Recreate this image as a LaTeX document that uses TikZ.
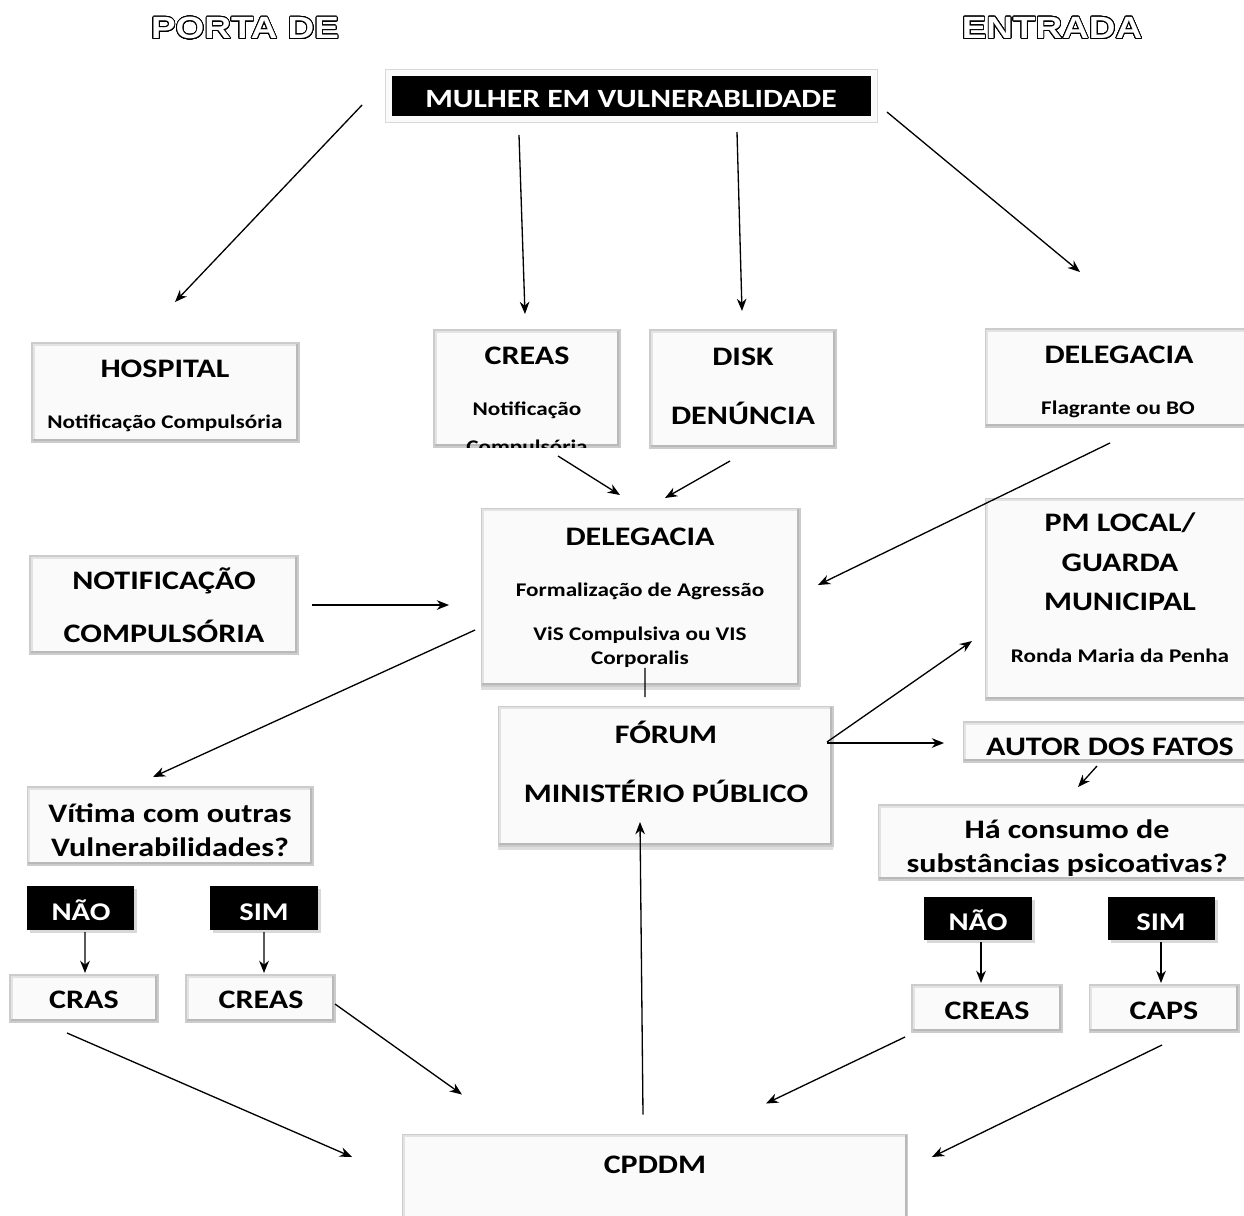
\documentclass[tikz,border=0pt]{standalone}
\usepackage{fontspec}
\setmainfont{Carlito}[FakeStretch=1.2]
\newfontfamily\portafont{Liberation Sans}[FakeStretch=1.2]
\usepackage{contour}
\contourlength{0.5pt}
\contournumber{32}
\usetikzlibrary{arrows.meta,calc,shadows}

\tikzset{
  caixa/.style={draw=gray!40, line width=0.6pt, fill=gray!4, inner sep=0pt, outer sep=0pt,
    path picture={
      \draw[gray!22, line width=3pt] (path picture bounding box.south west)
        -- (path picture bounding box.north west) -- (path picture bounding box.north east);
      \draw[gray!55, line width=3pt] (path picture bounding box.south west)
        -- (path picture bounding box.south east) -- (path picture bounding box.north east);
    }},
  sombra/.style={drop shadow={opacity=0.25, shadow xshift=0pt, shadow yshift=-2pt}},
  preta/.style={fill=black, inner sep=0pt, outer sep=0pt,
    drop shadow={opacity=0.3, shadow xshift=1.5pt, shadow yshift=-1.5pt}},
  rotulo/.style={inner sep=0pt, text depth=0pt},
  tA/.style={rotulo, font=\fontsize{15.2}{18}\selectfont\bfseries, text height=9.8pt},
  tS/.style={rotulo, font=\fontsize{11}{13}\selectfont\bfseries, text height=7.1pt},
  tW/.style={rotulo, font=\fontsize{14.5}{17}\selectfont\bfseries, text height=9.3pt, text=white},
  porta/.style={rotulo, font=\portafont\bfseries\fontsize{17.5}{19}\selectfont},
  seta/.style={line width=0.75pt, -{Stealth[length=7pt, width=5.5pt]}},
  linha/.style={line width=0.75pt}
}

\begin{document}
\begin{tikzpicture}[x=0.02cm, y=-0.02cm]
  \useasboundingbox[fill=white] (0,0) rectangle (1244,1215);

  % titulo
  \node[porta] (portaT) at (245,28) {\contour{black}{\textcolor{white}{PORTA DE}}};
  \node[porta] (entradaT) at (1052,28) {\contour{black}{\textcolor{white}{ENTRADA}}};

  % caixas
  \node[preta, draw=gray!4, line width=3.4pt, preaction={draw=gray!30, line width=4.8pt},
    minimum width=9.7cm, minimum height=0.92cm] (mulher) at (631.5,96) {};
  \node[caixa, minimum width=5.34cm, minimum height=1.98cm] (hosp) at (165.5,392.5) {};
  \node[caixa, minimum width=3.72cm, minimum height=2.34cm] (creasT) at (527,388.5) {};
  \node[caixa, minimum width=3.72cm, minimum height=2.36cm] (disk) at (743,389) {};
  \node[caixa, minimum width=5.3cm, minimum height=1.96cm] (delR) at (1117.5,378) {};
  \node[caixa, sombra, minimum width=6.38cm, minimum height=3.56cm] (delC) at (640.5,597) {};
  \node[caixa, minimum width=5.36cm, minimum height=1.96cm] (notif) at (164,605) {};
  \node[caixa, minimum width=5.3cm, minimum height=4.04cm] (pm) at (1117.5,599) {};
  \node[caixa, sombra, minimum width=6.7cm, minimum height=2.8cm] (forum) at (665.5,776) {};
  \node[caixa, minimum width=5.74cm, minimum height=0.8cm] (autor) at (1106.5,742) {};
  \node[caixa, minimum width=7.44cm, minimum height=1.5cm] (cons) at (1064,842.5) {};
  \node[caixa, minimum width=5.72cm, minimum height=1.56cm] (vit) at (170,826) {};
  \node[preta, minimum width=2.14cm, minimum height=0.88cm] (naoE) at (80.5,908) {};
  \node[preta, minimum width=2.16cm, minimum height=0.88cm] (simE) at (264,908) {};
  \node[caixa, minimum width=2.96cm, minimum height=0.94cm] (cras) at (84,998.5) {};
  \node[caixa, minimum width=2.98cm, minimum height=0.94cm] (creasE) at (260.5,998.5) {};
  \node[preta, minimum width=2.16cm, minimum height=0.86cm] (naoD) at (978,918.5) {};
  \node[preta, minimum width=2.14cm, minimum height=0.86cm] (simD) at (1161.5,918.5) {};
  \node[caixa, minimum width=3cm, minimum height=0.94cm] (creasD) at (987,1008.5) {};
  \node[caixa, minimum width=3cm, minimum height=0.94cm] (caps) at (1164,1008.5) {};
  \node[caixa, sombra, minimum width=10.12cm, minimum height=1.7cm] (cpddm) at (655,1177) {};

  % textos
  \node[tW, font=\fontsize{15}{18}\selectfont\bfseries, text height=9.7pt] (mulherT) at (631,99) {MULHER EM VULNERABLIDADE};
  \node[tA] (hospT) at (165,369) {HOSPITAL};
  \node[tS] (hospS) at (165,422) {Notificação Compulsória};
  \node[tA] (creasTT) at (527,356) {CREAS};
  \node[tS] (creasTS) at (527,409) {Notificação};
  \begin{scope}
    \clip (creasT.south west) rectangle (creasT.north east);
    \node[tS] (creasTS2) at (527,447) {Compulsória};
  \end{scope}
  \node[tA] (diskT) at (743,357) {DISK};
  \node[tA] (diskS) at (743,416) {DENÚNCIA};
  \node[tA] (delRT) at (1119,355) {DELEGACIA};
  \node[tS] (delRS) at (1118,408) {Flagrante ou BO};
  \node[tA] (delCT) at (640,537) {DELEGACIA};
  \node[tS] (delCS) at (640,590) {Formalização de Agressão};
  \node[tS] (delCS2) at (640,634) {ViS Compulsiva ou VIS};
  \node[tS] (delCS3) at (640,658) {Corporalis};
  \node[tA] (notifT) at (164,581) {NOTIFICAÇÃO};
  \node[tA] (notifS) at (164,634) {COMPULSÓRIA};
  \node[tA] (pmT) at (1120,523) {PM LOCAL/};
  \node[tA] (pmT2) at (1120,563) {GUARDA};
  \node[tA] (pmT3) at (1120,602) {MUNICIPAL};
  \node[tS] (pmS) at (1120,656) {Ronda Maria da Penha};
  \node[tA] (forumT) at (666,735) {FÓRUM};
  \node[tA] (forumS) at (666,794) {MINISTÉRIO PÚBLICO};
  \node[tA] (autorT) at (1110,747) {AUTOR DOS FATOS};
  \node[tA] (consT) at (1067,830) {Há consumo de};
  \begin{scope}
    \clip ($(cons.south west)+(0,-5)$) rectangle (cons.north east);
    \node[tA] (consT2) at (1067,864) {substâncias psicoativas?};
  \end{scope}
  \node[tA] (vitT) at (170,814) {Vítima com outras};
  \node[tA] (vitT2) at (170,848) {Vulnerabilidades?};
  \node[tW] (naoET) at (81,912) {NÃO};
  \node[tW] (simET) at (264,912) {SIM};
  \node[tA] (crasT) at (84,1000) {CRAS};
  \node[tA] (creasET) at (261,1000) {CREAS};
  \node[tW] (naoDT) at (978,922) {NÃO};
  \node[tW] (simDT) at (1161,922) {SIM};
  \node[tA] (creasDT) at (987,1011) {CREAS};
  \node[tA] (capsT) at (1164,1011) {CAPS};
  \node[tA] (cpddmT) at (655,1165) {CPDDM};

  % ligacoes
  \draw[seta] ($(mulher.west)+(-27,9)$) -- ($(hosp.north)+(9.5,-41)$);
  \draw[seta] ($(mulher.south)+(-112.5,16)$) -- ($(creasT.north)+(-2,-16)$);
  \draw[seta] ($(mulher.south)+(105.5,13)$) -- ($(disk.north)+(-1,-19)$);
  \draw[seta] ($(mulher.east)+(13,16)$) -- ($(delR.north)+(-37.5,-57)$);
  \draw[seta] ($(creasT.south)+(31,9)$) -- ($(delC.north)+(-20.5,-13)$);
  \draw[seta] ($(disk.south)+(-13,13)$) -- ($(delC.north)+(24.5,-10)$);
  \draw[seta] ($(delR.south)+(-7.5,16)$) -- ($(delC.east)+(18,-12)$);
  \draw[seta] ($(notif.east)+(14,0)$) -- ($(delC.west)+(-32,8)$);
  \draw[seta] ($(delC.west)+(-6,33)$) -- ($(vit.north)+(-17,-10)$);
  \draw[linha] ($(delC.south)+(4.5,-18)$) -- ($(forum.north)+(-20.5,-9)$);
  \draw[seta] ($(forum.east)+(-6,-34)$) -- ($(pm.west)+(-13,42)$);
  \draw[seta] ($(forum.east)+(-6,-33)$) -- ($(autor.west)+(-19,1)$);
  \draw[seta] ($(autor.south)+(-9.5,4)$) -- ($(cons.north)+(14,-18)$);
  \draw[seta] ($(naoE.south)+(4.5,2)$) -- ($(cras.north)+(1,-2)$);
  \draw[seta] ($(simE.south)+(0,2)$) -- ($(creasE.north)+(3.5,-2)$);
  \draw[seta] ($(naoD.south)+(3,2)$) -- ($(creasD.north)+(-6,-2)$);
  \draw[seta] ($(simD.south)+(-0.5,2)$) -- ($(caps.north)+(-3,-2)$);
  \draw[seta] ($(cras.south)+(-17,11)$) -- ($(cpddm.west)+(-50,-20)$);
  \draw[seta] ($(creasE.east)+(0,5.5)$) -- ($(cpddm.north)+(-193,-40)$);
  \draw[seta] ($(creasD.west)+(-7,28.5)$) -- ($(cpddm.north)+(111,-31)$);
  \draw[seta] ($(caps.south)+(-2,13)$) -- ($(cpddm.east)+(24,-20)$);
  \draw[seta] ($(cpddm.north)+(-12,-20)$) -- ($(forum.south)+(-25.5,-24)$);
\end{tikzpicture}
\end{document}
